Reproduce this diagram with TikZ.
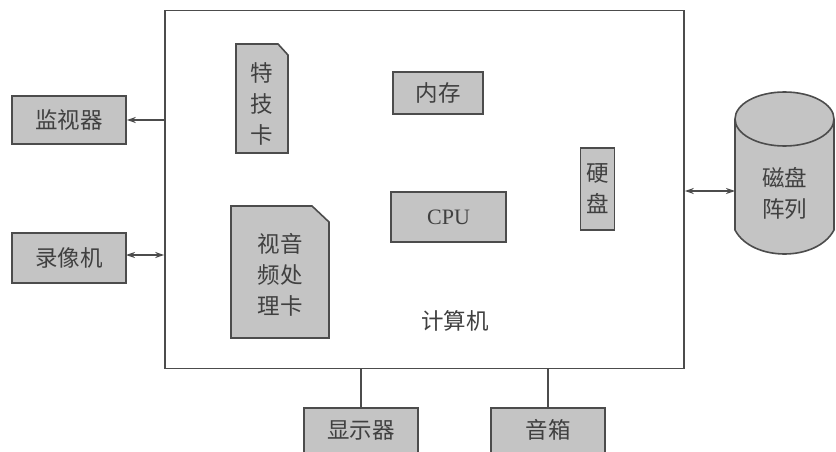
\documentclass[tikz,border=0pt]{standalone}
\usepackage{fontspec}
\newfontfamily\cjk{Noto Sans CJK SC}
\setmainfont{Liberation Serif}
\usetikzlibrary{arrows.meta}
\definecolor{boxfill}{gray}{0.77}
\definecolor{edge}{gray}{0.3}
\definecolor{txt}{gray}{0.25}
\begin{document}
\begin{tikzpicture}[x=1pt,y=-1pt,
  box/.style={draw=edge,line width=1.6pt,fill=boxfill,text=txt,inner sep=0pt,
    font=\cjk\fontsize{22.5}{31}\selectfont,align=center},
  lbl/.style={text=txt,inner sep=0pt,font=\cjk\fontsize{22.5}{31}\selectfont,align=center},
  wire/.style={draw=edge,line width=1.2pt},
  arr/.style={wire,-{Stealth[length=9pt,width=6pt]}},
  darr/.style={wire,{Stealth[length=9pt,width=6pt]}-{Stealth[length=9pt,width=6pt]}}]
\useasboundingbox (0,0) rectangle (836,452);
\clip (0,0) rectangle (836,452);
\fill[white] (0,0) rectangle (836,452);
% main computer box
\node[draw=edge,line width=1.6pt,minimum width=519pt,minimum height=358pt,inner sep=0pt] (pc) at (424.5,189.5) {};
\node[lbl] (pclbl) at (455,321) {计算机};
% inner components
\node[box,minimum width=90pt,minimum height=42pt] (mem) at (438,93) {内存};
\node[box,minimum width=115pt,minimum height=50pt,font=\fontsize{22}{24}\selectfont] (cpu) at (448.5,217) {CPU};
\node[box,minimum width=34pt,minimum height=82pt] (hdd) at (597.5,189) {硬\\盘};
% cards with cut corner
\draw[draw=edge,line width=1.6pt,fill=boxfill] (236,44) -- (278,44) -- (288,55) -- (288,153) -- (236,153) -- cycle;
\node[lbl] (fx) at (262,104) {特\\技\\卡};
\draw[draw=edge,line width=1.6pt,fill=boxfill] (231,206) -- (312,206) -- (329,222) -- (329,338) -- (231,338) -- cycle;
\node[lbl] (av) at (280,275) {视音\\频处\\理卡};
% left devices
\node[box,minimum width=114pt,minimum height=48pt] (mon) at (69,120) {监视器};
\node[box,minimum width=114pt,minimum height=50pt] (vcr) at (69,258) {录像机};
\draw[arr] (mon.east -| pc.west) -- (mon.east);
\coordinate (vcrp) at (126,255);
\draw[darr] (vcrp -| pc.west) -- (vcrp);
% bottom devices
\node[box,minimum width=114pt,minimum height=60pt,anchor=north] (disp) at (361,407) {};
\node[lbl] (displbl) at (361,430) {显示器};
\node[box,minimum width=114pt,minimum height=60pt,anchor=north] (spk) at (548,407) {};
\node[lbl] (spklbl) at (548,430) {音箱};
\draw[wire] (disp.north |- pc.south) -- (disp.north);
\draw[wire] (spk.north |- pc.south) -- (spk.north);
% disk array cylinder
\draw[draw=edge,line width=1.6pt,fill=boxfill] (735,119) -- (735,230)
  .. controls (752,262) and (817,262) .. (834,230) -- (834,119);
\draw[draw=edge,line width=1.6pt,fill=boxfill] (784.5,119) ellipse [x radius=49.5pt,y radius=27pt];
\node[lbl,minimum width=99pt] (raid) at (784.5,193) {磁盘\\阵列};
\coordinate (raidw) at (735,191);
\draw[darr] (raidw -| pc.east) -- (raidw);
\end{tikzpicture}
\end{document}
